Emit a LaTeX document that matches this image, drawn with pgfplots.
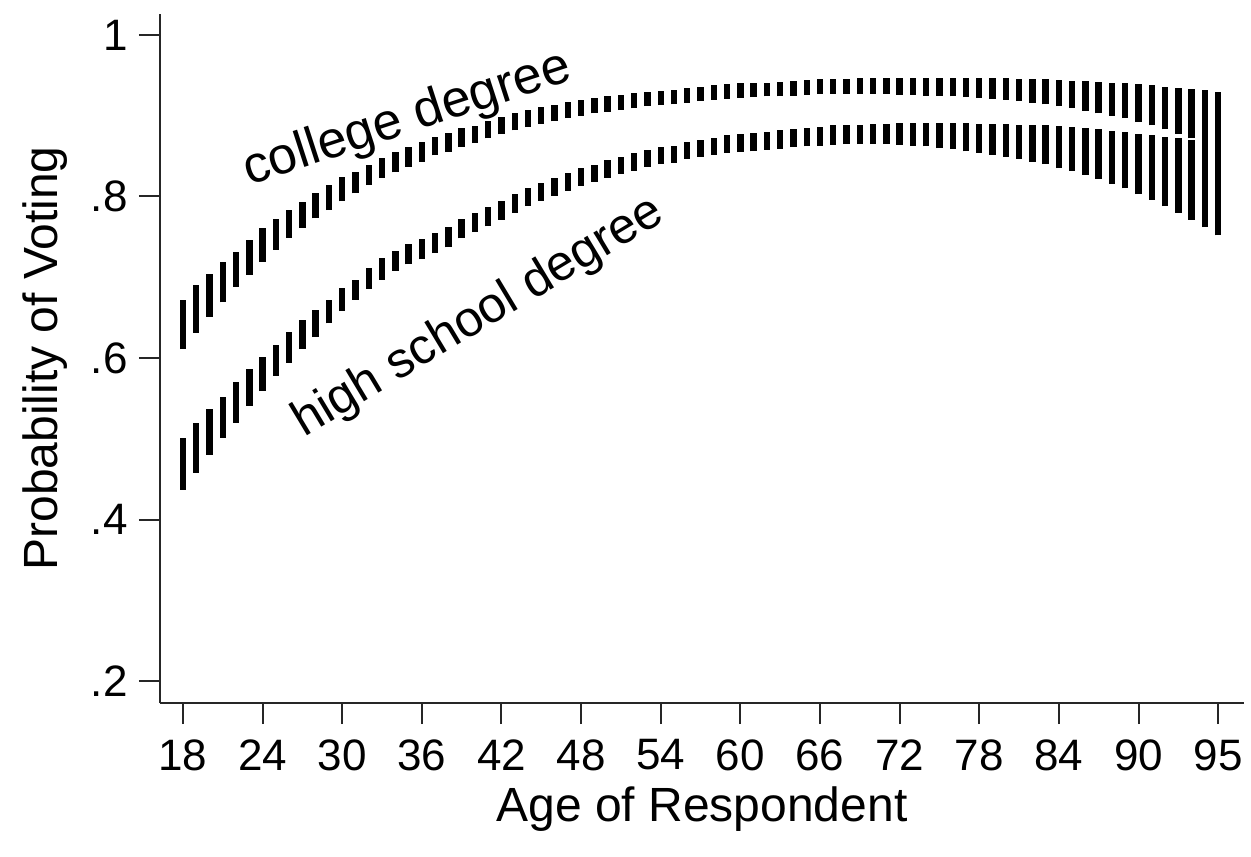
\documentclass[border=0pt]{standalone}
\usepackage{fontspec}
\setmainfont{Liberation Sans}
\usepackage{pgfplots}
\pgfplotsset{compat=1.18}
\usepackage{pgfplotstable}

\pgfplotstableread{
age lo hi
18 0.611 0.672
19 0.631 0.690
20 0.651 0.704
21 0.669 0.719
22 0.688 0.731
23 0.703 0.746
24 0.719 0.761
25 0.734 0.772
26 0.749 0.783
27 0.761 0.793
28 0.773 0.804
29 0.783 0.814
30 0.794 0.824
31 0.804 0.830
32 0.814 0.839
33 0.823 0.848
34 0.830 0.855
35 0.837 0.861
36 0.843 0.867
37 0.851 0.874
38 0.855 0.879
39 0.861 0.885
40 0.866 0.887
41 0.872 0.894
42 0.877 0.898
43 0.882 0.903
44 0.886 0.907
45 0.890 0.911
46 0.893 0.913
47 0.897 0.917
48 0.900 0.920
49 0.903 0.922
50 0.905 0.924
51 0.907 0.926
52 0.909 0.928
53 0.912 0.930
54 0.913 0.931
55 0.914 0.932
56 0.916 0.934
57 0.918 0.936
58 0.920 0.938
59 0.921 0.939
60 0.922 0.940
61 0.923 0.941
62 0.924 0.941
63 0.924 0.942
64 0.925 0.943
65 0.926 0.944
66 0.927 0.945
67 0.927 0.945
68 0.927 0.946
69 0.927 0.947
70 0.927 0.947
71 0.927 0.947
72 0.926 0.947
73 0.926 0.947
74 0.925 0.947
75 0.925 0.947
76 0.924 0.947
77 0.923 0.947
78 0.922 0.947
79 0.921 0.947
80 0.920 0.947
81 0.918 0.946
82 0.916 0.946
83 0.914 0.945
84 0.912 0.944
85 0.910 0.943
86 0.906 0.943
87 0.903 0.942
88 0.900 0.941
89 0.897 0.940
90 0.892 0.939
91 0.888 0.938
92 0.883 0.936
93 0.878 0.934
94 0.872 0.933
95 0.866 0.932
96 0.860 0.930
}\college

\pgfplotstableread{
age lo hi
18 0.437 0.501
19 0.458 0.520
20 0.480 0.537
21 0.501 0.552
22 0.520 0.570
23 0.541 0.586
24 0.559 0.601
25 0.578 0.616
26 0.594 0.632
27 0.611 0.647
28 0.626 0.659
29 0.643 0.672
30 0.658 0.687
31 0.672 0.697
32 0.686 0.711
33 0.697 0.724
34 0.708 0.733
35 0.716 0.741
36 0.722 0.747
37 0.730 0.755
38 0.737 0.762
39 0.748 0.772
40 0.756 0.780
41 0.763 0.787
42 0.771 0.794
43 0.780 0.803
44 0.788 0.811
45 0.795 0.817
46 0.801 0.823
47 0.807 0.829
48 0.813 0.835
49 0.818 0.839
50 0.823 0.845
51 0.828 0.849
52 0.832 0.854
53 0.837 0.858
54 0.840 0.861
55 0.842 0.863
56 0.847 0.867
57 0.849 0.870
58 0.852 0.873
59 0.854 0.876
60 0.855 0.878
61 0.856 0.879
62 0.858 0.880
63 0.859 0.882
64 0.861 0.884
65 0.862 0.885
66 0.863 0.886
67 0.864 0.888
68 0.865 0.889
69 0.865 0.889
70 0.865 0.890
71 0.865 0.890
72 0.864 0.891
73 0.863 0.891
74 0.862 0.891
75 0.860 0.891
76 0.859 0.891
77 0.856 0.891
78 0.854 0.890
79 0.852 0.890
80 0.849 0.890
81 0.847 0.889
82 0.843 0.889
83 0.840 0.888
84 0.835 0.887
85 0.832 0.886
86 0.827 0.885
87 0.822 0.883
88 0.816 0.881
89 0.810 0.880
90 0.803 0.878
91 0.796 0.876
92 0.788 0.874
93 0.780 0.872
94 0.771 0.870
95 0.762 0.867
96 0.752 0.866
}\highschool

\newcommand{\bigfont}{\fontsize{24}{28}\selectfont}
\newcommand{\tickfont}{\fontsize{22}{26}\selectfont}

\begin{document}
\begin{tikzpicture}
\begin{axis}[
  at={(0,0)}, anchor=south west,
  scale only axis, width=542pt, height=344.5pt,
  xmin=16.27, xmax=97.95, ymin=0.1728, ymax=1.026,
  axis lines=left,
  axis line style={-, line width=1pt, black!85},
  tick style={line width=1pt, black!85},
  tick align=outside, major tick length=10.5pt,
  xtick={18,24,30,36,42,48,54,60,66,72,78,84,90,96},
  xticklabels={18,24,30,36,42,48,54,60,66,72,78,84,90,95},
  ytick={0.2,0.4,0.6,0.8,1},
  yticklabels={.2,.4,.6,.8,1},
  /pgf/number format/assume math mode=true,
  tick label style={font=\tickfont},
  label style={font=\bigfont},
  xticklabel style={inner sep=7.5pt},
  yticklabel style={inner sep=5.5pt},
  xlabel={Age of Respondent},
  ylabel={Probability of Voting},
  xlabel style={at={(axis description cs:0.5,-0.1727)}, anchor=base},
  ylabel style={at={(axis description cs:-0.0949,0.5)}, anchor=base},
  clip=false,
]
\addplot[draw=none, mark=none,
  error bars/.cd, y dir=plus, y explicit, error mark=none,
  error bar style={line width=3.2pt, draw=black}]
  table[x=age, y=lo, y error expr=\thisrow{hi}-\thisrow{lo}] {\college};
\addplot[draw=none, mark=none,
  error bars/.cd, y dir=plus, y explicit, error mark=none,
  error bar style={line width=3.2pt, draw=black}]
  table[x=age, y=lo, y error expr=\thisrow{hi}-\thisrow{lo}] {\highschool};
\node[rotate=18, font=\fontsize{26}{30}\selectfont] at (axis cs:34.9,0.895) {college degree};
\node[rotate=31, font=\fontsize{25}{30}\selectfont] at (axis cs:40.3,0.650) {high school degree};
\end{axis}
\pgfresetboundingbox
\path[use as bounding box] (-80pt,-76.5pt) rectangle (545.5pt,351.5pt);
\end{tikzpicture}
\end{document}
